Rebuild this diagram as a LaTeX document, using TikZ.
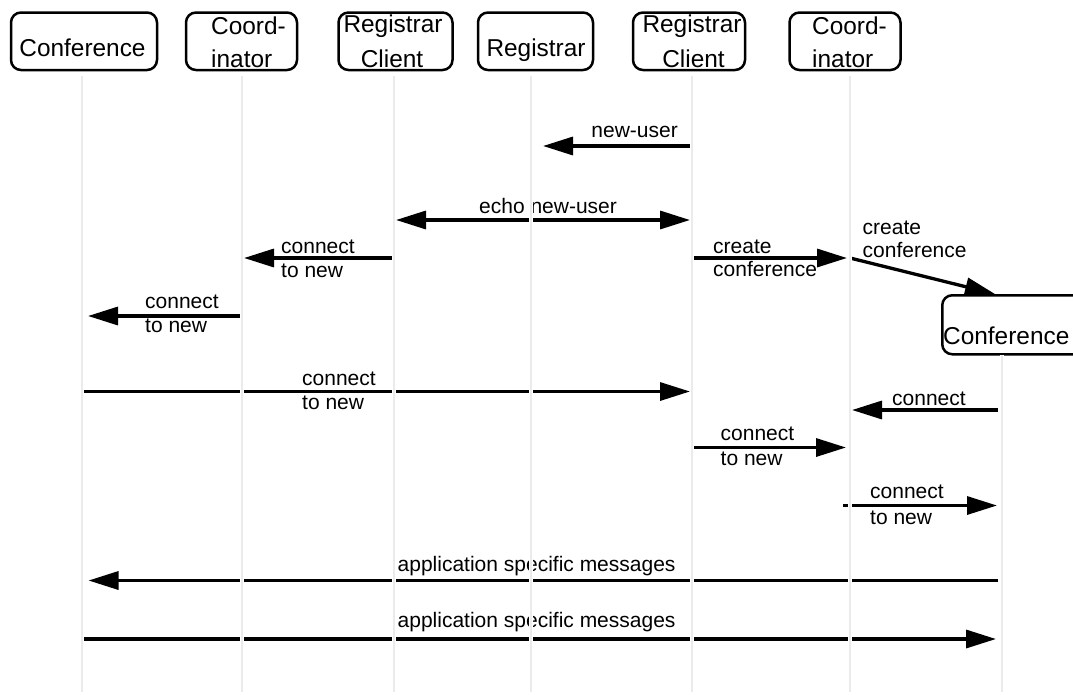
\documentclass[tikz,border=0pt]{standalone}
\usepackage{fontspec}
\setmainfont{Liberation Sans}
\usetikzlibrary{arrows.meta}

\definecolor{lifegray}{HTML}{EBEBEB}
\tikzset{
  actor/.style={draw=black, line width=2.5pt, rounded corners=10pt, inner sep=0pt, minimum height=57.5pt},
  actortext/.style={font=\fontsize{24.4}{29}\selectfont, inner sep=0pt, anchor=base},
  actortextl/.style={actortext, anchor=base west},
  msg/.style={line width=3.3pt, -{Triangle[length=30pt,width=18pt]}},
  msgboth/.style={line width=3.3pt, {Triangle[length=30pt,width=18pt]}-{Triangle[length=30pt,width=18pt]}},
  msgtext/.style={font=\fontsize{21}{25}\selectfont, inner sep=0pt, anchor=base west},
  life/.style={draw=white, line width=1pt, double=lifegray, double distance=2.6pt},
}

\begin{document}
\begin{tikzpicture}[x=1pt, y=-1pt]
\useasboundingbox (0,0) rectangle (1073,694);
\begin{scope}
\clip (0,0) rectangle (1073,694);

% participants
\node[actor, minimum width=146pt] (conf1) at (84,41.25) {};
\node[actor, minimum width=111pt] (coord1) at (241.5,41.25) {};
\node[actor, minimum width=114pt] (rc1) at (395.5,41.25) {};
\node[actor, minimum width=115pt] (reg) at (535.5,41.25) {};
\node[actor, minimum width=112pt] (rc2) at (689,41.25) {};
\node[actor, minimum width=111pt] (coord2) at (845,41.25) {};
\node[actor, minimum width=150pt, minimum height=59pt, anchor=north west] (conf3) at (941,294) {};

\node[actortext] (conf1t) at (82.5,56.3) {Conference};
\node[actortextl] (coord1a) at (211,34) {Coord-};
\node[actortextl] (coord1b) at (211,67) {inator};
\node[actortext] (rc1a) at (393,32.5) {Registrar};
\node[actortext] (rc1b) at (392,67) {Client};
\node[actortext] (regt) at (536,56.3) {Registrar};
\node[actortext] (rc2a) at (692,32.5) {Registrar};
\node[actortext] (rc2b) at (693.5,67) {Client};
\node[actortextl] (coord2a) at (812,34) {Coord-};
\node[actortextl] (coord2b) at (812,67) {inator};
\node[actortextl] (conf3t) at (943,344) {Conference};

% lifeline end points
\coordinate (l1t) at (82,76);   \coordinate (l1b) at (82,692);
\coordinate (l2t) at (242,76);  \coordinate (l2b) at (242,692);
\coordinate (l3t) at (394,76);  \coordinate (l3b) at (394,692);
\coordinate (l4t) at (531,76);  \coordinate (l4b) at (531,692);
\coordinate (l5t) at (692,76);  \coordinate (l5b) at (692,692);
\coordinate (l6t) at (850,76);  \coordinate (l6b) at (850,692);
\coordinate (l7t) at (1002,355); \coordinate (l7b) at (1002,692);

% message end points
\coordinate (m1a) at (692,146);   \coordinate (m1b) at (543,146);
\coordinate (m2a) at (396,220);   \coordinate (m2b) at (690,220);
\coordinate (m3a) at (392,258);   \coordinate (m3b) at (244,258);
\coordinate (m4a) at (692,258);   \coordinate (m4b) at (847,258);
\coordinate (m5a) at (850,258);   \coordinate (m5b) at (995,294);
\coordinate (m6a) at (242,316);   \coordinate (m6b) at (88,316);
\coordinate (m7a) at (84,391.5);  \coordinate (m7b) at (690,391.5);
\coordinate (m8a) at (998,410);   \coordinate (m8b) at (852,410);
\coordinate (m9a) at (692,447.5); \coordinate (m9b) at (846,447.5);
\coordinate (m10a) at (843,505.5); \coordinate (m10b) at (997,505.5);
\coordinate (m11a) at (998,580.5); \coordinate (m11b) at (88.5,580.5);
\coordinate (m12a) at (84,639);   \coordinate (m12b) at (996,639);

% messages
\draw[msg] (m1a) -- (m1b);
\node[msgtext, anchor=base east] (t1) at (678,137) {new-user};

\draw[msgboth] (m2a) -- (m2b);
\node[msgtext] (t2) at (479,213) {echo new-user};

\draw[msg] (m3a) -- (m3b);
\node[msgtext] (t3a) at (281,253) {connect};
\node[msgtext] (t3b) at (281,277.5) {to new};

\draw[msg] (m4a) -- (m4b);
\node[msgtext] (t4a) at (713,253) {create};
\node[msgtext] (t4b) at (713,276) {conference};

\draw[msg] (m5a) -- (m5b);
\node[msgtext] (t5a) at (862.5,234) {create};
\node[msgtext] (t5b) at (862.5,257) {conference};

\draw[msg] (m6a) -- (m6b);
\node[msgtext] (t6a) at (145,308) {connect};
\node[msgtext] (t6b) at (145,332.5) {to new};

\draw[msg] (m7a) -- (m7b);
\node[msgtext] (t7a) at (302,385) {connect};
\node[msgtext] (t7b) at (302,409) {to new};

\draw[msg] (m8a) -- (m8b);
\node[msgtext] (t8) at (892,405) {connect};

\draw[msg] (m9a) -- (m9b);
\node[msgtext] (t9a) at (720.5,440) {connect};
\node[msgtext] (t9b) at (720.5,465) {to new};

\draw[msg] (m10a) -- (m10b);
\node[msgtext] (t10a) at (870,498.5) {connect};
\node[msgtext] (t10b) at (870,524) {to new};

\draw[msg] (m11a) -- (m11b);
\node[msgtext] (t11) at (397.5,571.5) {application specific messages};

\draw[msg] (m12a) -- (m12b);
\node[msgtext] (t12) at (397.5,627) {application specific messages};

% lifelines on top, with a white edge
\draw[life] (l1t) -- (l1b);
\draw[life] (l2t) -- (l2b);
\draw[life] (l3t) -- (l3b);
\draw[life] (l4t) -- (l4b);
\draw[life] (l5t) -- (l5b);
\draw[life] (l6t) -- (l6b);
\draw[life] (l7t) -- (l7b);
\end{scope}
\end{tikzpicture}
\end{document}
